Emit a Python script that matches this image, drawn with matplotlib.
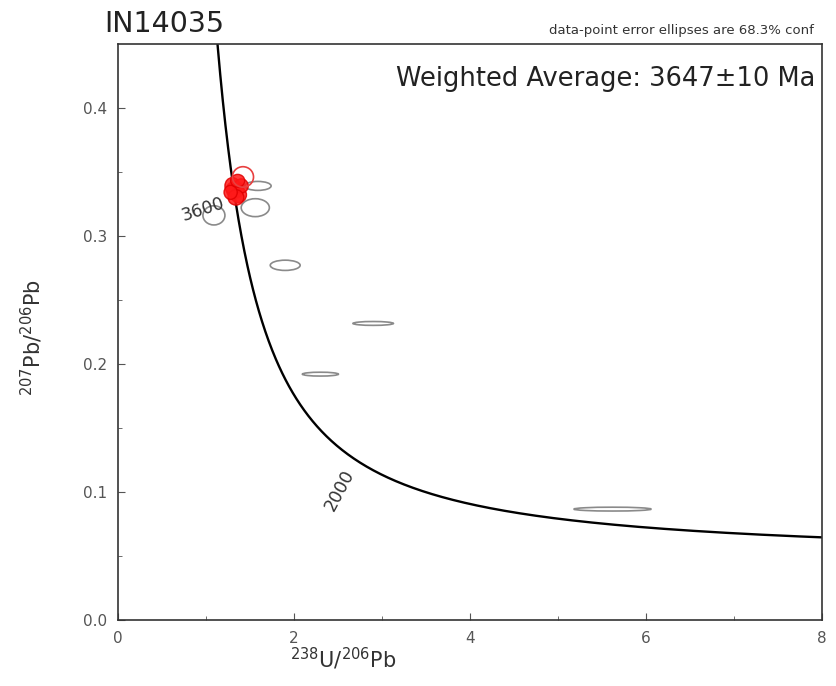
import numpy as np
import matplotlib
matplotlib.use('Agg')
import matplotlib.pyplot as plt
from matplotlib.patches import Ellipse

# decay constants (per year) for the concordia curve
l238 = 1.55125e-10
l235 = 9.8485e-10
u_ratio = 137.88
ages_ma = np.linspace(700, 4300, 400)

# gray data-point error ellipses: x, y, width, height
gray_x = [1.59, 1.56, 1.09, 1.90, 2.90, 2.30, 5.62]
gray_y = [0.339, 0.322, 0.316, 0.277, 0.2316, 0.192, 0.0866]
gray_w = [0.30, 0.32, 0.25, 0.34, 0.46, 0.41, 0.88]
gray_h = [0.007, 0.014, 0.015, 0.008, 0.003, 0.003, 0.003]

# red (used in weighted average) ellipses
red_x = [1.33, 1.37, 1.30, 1.40, 1.34, 1.28, 1.36]
red_y = [0.336, 0.332, 0.339, 0.339, 0.330, 0.334, 0.343]
red_w = [0.20, 0.18, 0.17, 0.16, 0.18, 0.15, 0.16]
red_h = [0.013, 0.012, 0.013, 0.011, 0.012, 0.011, 0.010]
red_open = (1.42, 0.346, 0.24, 0.016)

label_ages = ['3600', '2000']
label_x = [0.97, 2.52]
label_y = [0.321, 0.101]
label_rot = [18, 62]

fig = plt.figure(figsize=(8.37, 6.86), dpi=100)
ax = fig.add_axes([0.141, 0.0962, 0.841, 0.840])

t = ages_ma * 1e6
cx = 1.0 / (np.exp(l238 * t) - 1)
cy = (np.exp(l235 * t) - 1) / (np.exp(l238 * t) - 1) / u_ratio
ax.plot(cx, cy, color='black', lw=1.7, zorder=2)

for x, y, w, h in zip(gray_x, gray_y, gray_w, gray_h):
    ax.add_patch(Ellipse((x, y), w, h, facecolor='none', edgecolor='#8a8a8a', lw=1.2, zorder=3))

for x, y, w, h in zip(red_x, red_y, red_w, red_h):
    ax.add_patch(Ellipse((x, y), w, h, facecolor='#ff1a1a', edgecolor='#e00000', lw=1.0, alpha=0.85, zorder=4))
ax.add_patch(Ellipse(red_open[:2], red_open[2], red_open[3], facecolor='none', edgecolor='#e84040', lw=1.2, zorder=4))

for s, x, y, r in zip(label_ages, label_x, label_y, label_rot):
    ax.text(x, y, s, rotation=r, ha='center', va='center', fontsize=12.5, color='#333333', zorder=5)

ax.set_xlim(0, 8)
ax.set_ylim(0, 0.45)
ax.set_xticks([0, 2, 4, 6, 8])
ax.set_xticks([1, 3, 5, 7], minor=True)
ax.set_yticks([0.0, 0.1, 0.2, 0.3, 0.4])
ax.set_yticks([0.05, 0.15, 0.25, 0.35], minor=True)
ax.set_yticklabels(['0.0', '0.1', '0.2', '0.3', '0.4'])
ax.tick_params(which='both', direction='in', colors='#555555', labelsize=11, pad=8)
ax.tick_params(which='major', length=5)
ax.tick_params(which='minor', length=3)
for sp in ax.spines.values():
    sp.set_color('#333333')
    sp.set_linewidth(1.2)

ax.set_xlabel(r'$^{238}$U/$^{206}$Pb', fontsize=15, color='#333333')
ax.xaxis.set_label_coords(0.32, -0.045)
ax.set_ylabel(r'$^{207}$Pb/$^{206}$Pb', fontsize=15, color='#333333')
ax.yaxis.set_label_coords(-0.104, 0.49)

ax.text(0.99, 0.962, 'Weighted Average: 3647±10 Ma', transform=ax.transAxes,
        ha='right', va='top', fontsize=18.5, color='#222222')
fig.text(0.124, 0.965, 'IN14035', fontsize=20.5, color='#222222', va='center')
fig.text(0.972, 0.955, 'data-point error ellipses are 68.3% conf', fontsize=9.5,
         color='#333333', ha='right', va='center')

fig.savefig('out.png', dpi=100)
